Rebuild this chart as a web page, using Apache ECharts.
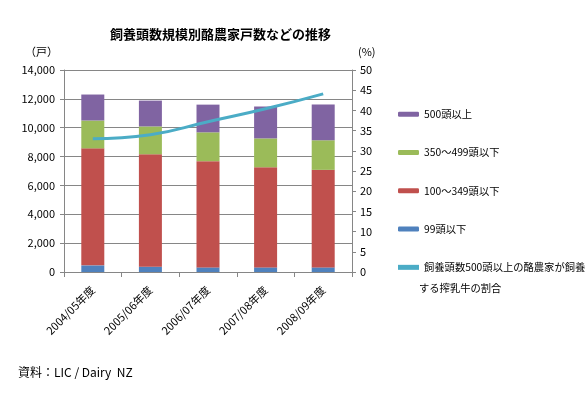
<!DOCTYPE html>
<html>
<head>
<meta charset="utf-8">
<script src="https://cdn.jsdelivr.net/npm/echarts@6/dist/echarts.min.js"></script>
<style>
  html, body { margin: 0; padding: 0; background: #fff; }
  #main { width: 588px; height: 396px; }
</style>
</head>
<body>
<div id="main"></div>
<script>
var years = ['2004/05年度', '2005/06年度', '2006/07年度', '2007/08年度', '2008/09年度']
var under99 = [460, 370, 320, 320, 320]
var from100to349 = [8110, 7790, 7360, 6940, 6760]
var from350to499 = [1930, 1930, 2000, 2000, 2050]
var over500 = [1800, 1790, 1920, 2210, 2480]
var share500 = [33.0, 34.0, 37.2, 40.4, 44.1]

var font = '"Noto Sans CJK JP", sans-serif'
var axisColor = '#868686'

var myChart = echarts.init(document.getElementById('main'))
var option

option = {
  animation: false,
  textStyle: { fontFamily: font, color: '#000' },
  title: {
    text: '飼養頭数規模別酪農家戸数などの推移',
    left: 105,
    top: 23,
    textStyle: { fontFamily: font, fontSize: 13, fontWeight: 'bold', color: '#000' },
  },
  grid: { left: 64, right: 236, top: 70, bottom: 124 },
  legend: {
    orient: 'vertical',
    left: 393,
    top: 104,
    itemWidth: 21,
    itemHeight: 5,
    itemGap: 28,
    textStyle: { fontFamily: font, fontSize: 10.3, color: '#000' },
    data: [
      { name: '500頭以上' },
      { name: '350～499頭以下' },
      { name: '100～349頭以下' },
      { name: '99頭以下' },
      { name: '飼養頭数500頭以上の酪農家が飼養', icon: 'rect', itemStyle: { color: '#4BACC6' } },
    ],
  },
  graphic: [
    {
      type: 'text',
      left: 419,
      top: 283,
      style: { text: 'する搾乳牛の割合', font: '10.3px ' + font, fill: '#000' },
    },
    {
      type: 'text',
      left: 18,
      top: 366,
      style: { text: '資料：LIC / Dairy  NZ', font: '12px ' + font, fill: '#000' },
    },
  ],
  xAxis: {
    type: 'category',
    data: years,
    axisLine: { lineStyle: { color: axisColor } },
    axisTick: { show: true, length: 5, lineStyle: { color: axisColor } },
    axisLabel: { rotate: 45, fontSize: 11, color: '#000', fontFamily: font, margin: 16 },
  },
  yAxis: [
    {
      type: 'value',
      min: 0,
      max: 14000,
      interval: 2000,
      name: '（戸）',
      nameLocation: 'end',
      nameGap: 13,
      nameTextStyle: { fontSize: 11, color: '#000', align: 'right', padding: [0, 6, 0, 0] },
      axisLine: { show: true, lineStyle: { color: axisColor } },
      axisTick: { show: true, length: 4, lineStyle: { color: axisColor } },
      splitLine: { lineStyle: { color: axisColor } },
      axisLabel: {
        fontSize: 11,
        color: '#000',
        margin: 9,
        formatter: function (v) { return v.toLocaleString('en-US') },
      },
    },
    {
      type: 'value',
      min: 0,
      max: 50,
      interval: 5,
      name: '(%)',
      nameLocation: 'end',
      nameGap: 13,
      nameTextStyle: { fontSize: 11, color: '#000', align: 'left', padding: [0, 0, 0, 6] },
      axisLine: { show: true, lineStyle: { color: axisColor } },
      axisTick: { show: true, length: 4, lineStyle: { color: axisColor } },
      splitLine: { show: false },
      axisLabel: { fontSize: 11, color: '#000', margin: 8 },
    },
  ],
  series: [
    { name: '99頭以下', type: 'bar', stack: 'farms', barWidth: 23, data: under99, itemStyle: { color: '#4F81BD' } },
    { name: '100～349頭以下', type: 'bar', stack: 'farms', data: from100to349, itemStyle: { color: '#C0504D' } },
    { name: '350～499頭以下', type: 'bar', stack: 'farms', data: from350to499, itemStyle: { color: '#9BBB59' } },
    { name: '500頭以上', type: 'bar', stack: 'farms', data: over500, itemStyle: { color: '#8064A2' } },
    {
      name: '飼養頭数500頭以上の酪農家が飼養',
      type: 'line',
      yAxisIndex: 1,
      smooth: true,
      showSymbol: false,
      data: share500,
      lineStyle: { color: '#4BACC6', width: 3 },
      itemStyle: { color: '#4BACC6' },
    },
  ],
}

option && myChart.setOption(option)
</script>
</body>
</html>
